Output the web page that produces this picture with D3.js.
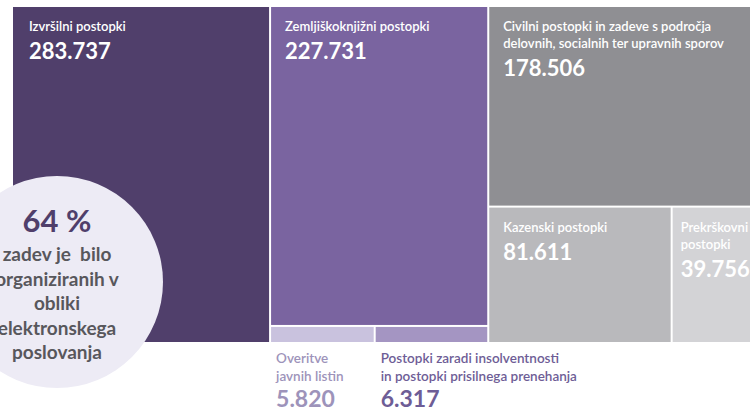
<!DOCTYPE html>
<html>
<head>
<meta charset="utf-8">
<script src="https://cdn.jsdelivr.net/npm/d3@7"></script>
<style>
body { margin: 0; background: #fff; }
svg { display: block; font-family: Lato, "Noto Sans", sans-serif; }
text { white-space: pre; }
</style>
</head>
<body>
<svg id="chart" width="750" height="411"></svg>
<script>
// values
var names = [
	["Izvršilni postopki"],
	["Zemljiškoknjižni postopki"],
	["Civilni postopki in zadeve s področja", "delovnih, socialnih ter upravnih sporov"],
	["Kazenski postopki"],
	["Prekrškovni", "postopki"],
	["Overitve", "javnih listin"],
	["Postopki zaradi insolventnosti", "in postopki prisilnega prenehanja"]
];
var values = [283737, 227731, 178506, 81611, 39756, 5820, 6317];
var valueLabels = ["283.737", "227.731", "178.506", "81.611", "39.756", "5.820", "6.317"];
// columns, second entry of a column is split side by side
var groups = [[0], [1, [5, 6]], [2, [3, 4]]];
var circleLines = ["zadev je  bilo", "organiziranih v", "obliki", "elektronskega", "poslovanja"];
var circleValue = "64 %";

var colors = ["#503f6b", "#7a64a0", "#8f8f93", "#b9b9bc", "#d3d3d6", "#c9c2de", "#a495c2"];
var outsideColors = {5: "#9d93ba", 6: "#6e5d96"};

function leaf(i){ return {id: i, value: values[i]}; }
function build(g){
	if (typeof g == "number") return leaf(g);
	if (g.length == 1) return leaf(g[0]);
	return {children: g.map(build)};
}
var root = d3.hierarchy({children: groups.map(build)})
	.sum(function(d){ return d.value || 0; });

d3.treemap()
	.tile(d3.treemapSliceDice)
	.size([747, 335])
	.paddingInner(2)(root);

var svg = d3.select("#chart");
var g = svg.append("g").attr("transform", "translate(13,7)");

var leaves = root.leaves();

g.selectAll("rect")
	.data(leaves)
	.enter()
	.append("rect")
		.attr("x", function(d){ return d.x0; })
		.attr("y", function(d){ return d.y0; })
		.attr("width", function(d){ return d.x1 - d.x0; })
		.attr("height", function(d){ return d.y1 - d.y0; })
		.attr("fill", function(d){ return colors[d.data.id]; });

// labels inside the big cells
leaves.forEach(function(d){
	var i = d.data.id;
	if (i >= 5) return;
	var dx = (i == 0) ? 16 : (i == 4 ? 8 : 14);
	var t = g.append("text")
		.attr("fill", "#fff")
		.attr("font-size", "13px")
		.attr("font-weight", 600);
	names[i].forEach(function(line, k){
		t.append("tspan")
			.attr("x", d.x0 + dx)
			.attr("y", d.y0 + 24 + k*17)
			.text(line);
	});
	g.append("text")
		.attr("x", d.x0 + dx)
		.attr("y", d.y0 + 24 + (names[i].length-1)*17 + 28)
		.attr("fill", "#fff")
		.attr("font-size", "22px")
		.attr("font-weight", 700)
		.text(valueLabels[i]);
});

// labels of the small cells, below the map
leaves.forEach(function(d){
	var i = d.data.id;
	if (i < 5) return;
	var t = g.append("text")
		.attr("fill", outsideColors[i])
		.attr("font-size", "13.5px")
		.attr("font-weight", 600);
	names[i].forEach(function(line, k){
		t.append("tspan")
			.attr("x", d.x0 + 5)
			.attr("y", d.y1 + 21 + k*18)
			.text(line);
	});
	g.append("text")
		.attr("x", d.x0 + 5)
		.attr("y", d.y1 + 65)
		.attr("fill", outsideColors[i])
		.attr("font-size", "23px")
		.attr("font-weight", 700)
		.text(valueLabels[i]);
});

// circle note
var cx = 57, cy = 282;
svg.append("circle")
	.attr("cx", cx).attr("cy", cy).attr("r", 106)
	.attr("fill", "#edebf5");
svg.append("text")
	.attr("x", cx).attr("y", 232)
	.attr("text-anchor", "middle")
	.attr("fill", "#503f6b")
	.attr("font-size", "31px")
	.attr("font-weight", 700)
	.text(circleValue);
var ct = svg.append("text")
	.attr("text-anchor", "middle")
	.attr("fill", "#58575c")
	.attr("font-size", "19px")
	.attr("font-weight", 700);
circleLines.forEach(function(line, k){
	ct.append("tspan")
		.attr("x", cx)
		.attr("y", 261 + k*24.5)
		.text(line);
});
</script>
</body>
</html>
